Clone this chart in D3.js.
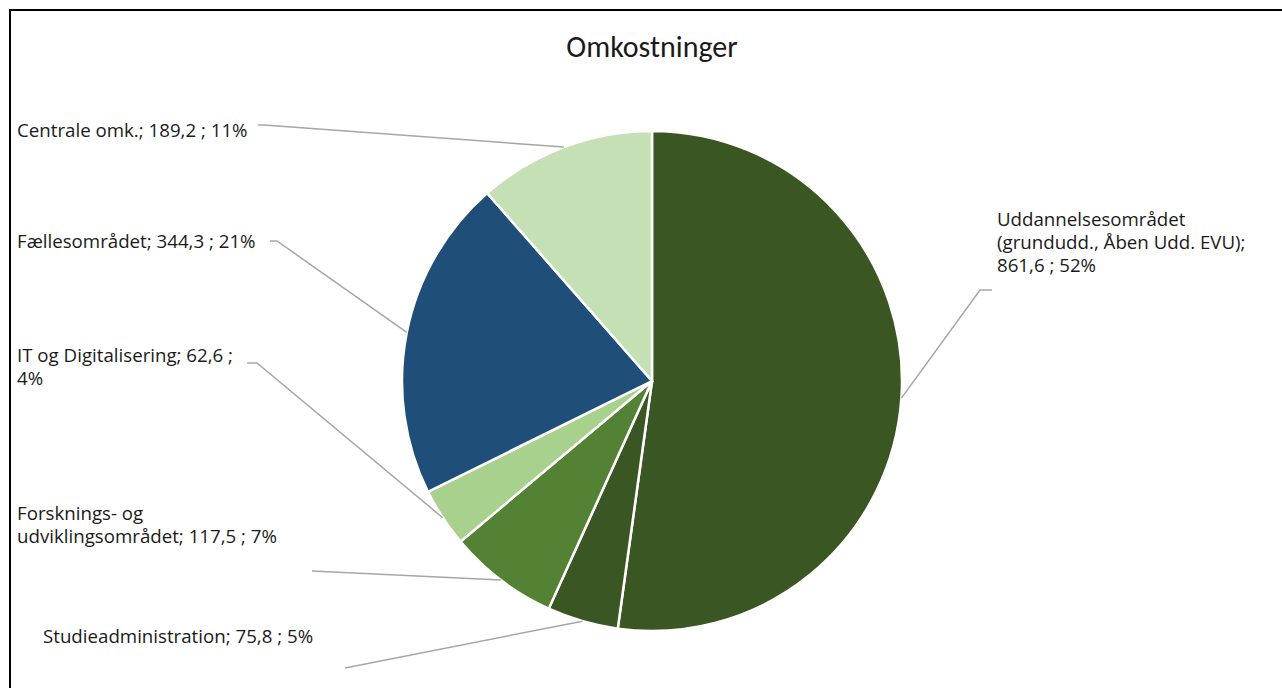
<!DOCTYPE html>
<html>
<head>
<meta charset="utf-8">
<script src="https://cdn.jsdelivr.net/npm/d3@7"></script>
<style>
  body { margin: 0; background: #fff; }
  svg { display: block; }
  .lbl { font-family: "Open Sans", sans-serif; font-size: 18.7px; fill: #1a1a1a; }
</style>
</head>
<body>
<div id="main"></div>
<script>
(function() {
  const categories = [
    "Uddannelsesområdet (grundudd., Åben Udd. EVU)",
    "Studieadministration",
    "Forsknings- og udviklingsområdet",
    "IT og Digitalisering",
    "Fællesområdet",
    "Centrale omk."
  ];
  const values = [861.6, 75.8, 117.5, 62.6, 344.3, 189.2];
  const colors = ["#3a5723", "#3a5723", "#548235", "#a9d18e", "#1f4e79", "#c5e0b4"];

  // label text lines + where the text and the leader line sit
  const labelLayout = [
    { lines: ["Uddannelsesområdet", "(grundudd., Åben Udd. EVU);", "{v} ; {p}"], x: 997, y: 226, anchor: [992, 290], elbow: [980, 290] },
    { lines: ["Studieadministration; {v} ; {p}"], x: 43, y: 643, anchor: [345, 668], elbow: [345, 668] },
    { lines: ["Forsknings- og", "udviklingsområdet; {v} ; {p}"], x: 17, y: 520, anchor: [312, 571], elbow: [312, 571] },
    { lines: ["IT og Digitalisering; {v} ;", "{p}"], x: 17, y: 362, anchor: [247, 363], elbow: [257, 363] },
    { lines: ["Fællesområdet; {v} ; {p}"], x: 17, y: 248, anchor: [270, 241], elbow: [277, 241] },
    { lines: ["Centrale omk.; {v} ; {p}"], x: 17, y: 137, anchor: [258, 125], elbow: [264, 125] }
  ];

  const W = 1282, H = 688;
  const cx = 652, cy = 381, R = 250;

  const svg = d3.select("#main").append("svg")
    .attr("width", W)
    .attr("height", H);

  svg.append("rect")
    .attr("x", 10).attr("y", 10)
    .attr("width", W + 20).attr("height", H + 20)
    .attr("fill", "#fff")
    .attr("stroke", "#000")
    .attr("stroke-width", 2);

  svg.append("text")
    .attr("x", cx)
    .attr("y", 57)
    .attr("text-anchor", "middle")
    .attr("font-family", "Carlito, 'Open Sans', sans-serif")
    .attr("font-size", "30px")
    .attr("fill", "#1a1a1a")
    .text("Omkostninger");

  const total = d3.sum(values);
  const data = categories.map((c, i) => ({ name: c, value: values[i], i }));

  const pie = d3.pie().sort(null).value(d => d.value);
  const arcs = pie(data);
  const arc = d3.arc().innerRadius(0).outerRadius(R);

  const g = svg.append("g").attr("transform", `translate(${cx},${cy})`);

  g.selectAll("path")
    .data(arcs)
    .join("path")
    .attr("d", arc)
    .attr("fill", d => colors[d.data.i])
    .attr("stroke", "#fff")
    .attr("stroke-width", 2.5);

  const fmt = v => d3.format(".1f")(v).replace(".", ",");
  const pct = v => Math.round(v / total * 100) + "%";

  // leader lines
  const line = d3.line();
  arcs.forEach(d => {
    const L = labelLayout[d.data.i];
    const a = (d.startAngle + d.endAngle) / 2;
    const edge = [cx + R * Math.sin(a), cy - R * Math.cos(a)];
    svg.append("path")
      .attr("d", line([L.anchor, L.elbow, edge]))
      .attr("fill", "none")
      .attr("stroke", "#a6a6a6")
      .attr("stroke-width", 1.5);
  });

  // labels
  arcs.forEach(d => {
    const L = labelLayout[d.data.i];
    const t = svg.append("text").attr("class", "lbl");
    L.lines.forEach((s, k) => {
      t.append("tspan")
        .attr("x", L.x)
        .attr("y", L.y + k * 23)
        .text(s.replace("{v}", fmt(d.data.value)).replace("{p}", pct(d.data.value)));
    });
  });
})();
</script>
</body>
</html>
